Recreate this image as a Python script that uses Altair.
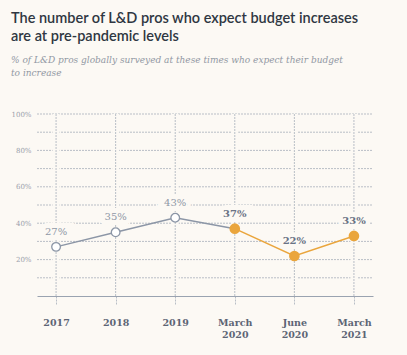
import altair as alt
import pandas as pd

categories = ["2017", "2018", "2019", "March 2020", "June 2020", "March 2021"]
values = [27, 35, 43, 37, 22, 33]
phase = ["pre", "pre", "pre", "pandemic", "pandemic", "pandemic"]
labels = ["27%", "35%", "43%", "37%", "22%", "33%"]

BG = "#fcf9f4"
GRAY = "#8c96a6"
ORANGE = "#eaa53c"
GRID = "#b9bec6"

df = pd.DataFrame({"cat": categories, "value": values, "phase": phase, "label": labels})

# line segments: grey pre-pandemic through March 2020, orange afterwards
line_rows = []
for i in range(4):
    line_rows.append({"cat": categories[i], "value": values[i], "seg": "pre", "order": i})
for i in range(3, 6):
    line_rows.append({"cat": categories[i], "value": values[i], "seg": "pandemic", "order": i})
line_df = pd.DataFrame(line_rows)

xs = alt.X("cat:N", sort=categories,
           scale=alt.Scale(type="point", padding=0.32),
           axis=alt.Axis(title=None, labelAngle=0, grid=False, domain=True,
                         domainColor="#9aa3b0", domainWidth=1.2,
                         ticks=True, tickColor=GRID, tickSize=9, tickDash=[2, 1],
                         labelPadding=12, labelFont="DejaVu Serif", labelFontSize=9.5,
                         labelFontWeight="bold", labelColor="#5d6575",
                         labelBaseline="top", labelLineHeight=12,
                         labelExpr="split(datum.label, ' ')"))
ys = alt.Y("value:Q", scale=alt.Scale(domain=[0, 100], nice=False),
           axis=alt.Axis(title=None, values=[20, 40, 60, 80, 100], grid=False,
                         domain=False, ticks=False, labelPadding=6,
                         labelFont="DejaVu Serif", labelFontSize=7,
                         labelColor="#9aa0ab", labelExpr="datum.value + '%'"))

grid_vals = pd.DataFrame({"g": [10, 20, 30, 40, 50, 60, 70, 80, 90, 100]})
hgrid = alt.Chart(grid_vals).mark_rule(color=GRID, strokeDash=[2, 1], strokeWidth=1).encode(
    y=alt.Y("g:Q", scale=alt.Scale(domain=[0, 100], nice=False)),
    x=alt.value(0), x2=alt.value(336))

base = alt.Chart(df)
vgap = base.mark_rule(color=BG, strokeWidth=7).encode(x=xs, y=alt.value(0), y2=alt.value(182))
vgrid = base.mark_rule(color=GRID, strokeDash=[2, 1], strokeWidth=1).encode(
    x=xs, y=alt.value(0), y2=alt.value(182))

halo = base.mark_text(dy=-15, fontSize=10, font="DejaVu Serif", stroke=BG, strokeWidth=10,
                      color=BG).encode(x=xs, y=ys, text="label:N")

lines = alt.Chart(line_df).mark_line(strokeWidth=1.5).encode(
    x=xs, y=ys, detail="seg:N", order="order:Q",
    color=alt.Color("seg:N", scale=alt.Scale(domain=["pre", "pandemic"], range=[GRAY, ORANGE]),
                    legend=None))

pts_pre = base.transform_filter(alt.datum.phase == "pre").mark_point(
    shape="circle", filled=True, fill="#ffffff", stroke=GRAY, strokeWidth=1.3, size=75,
    opacity=1).encode(x=xs, y=ys)
pts_pan = base.transform_filter(alt.datum.phase == "pandemic").mark_point(
    shape="circle", filled=True, fill=ORANGE, stroke=ORANGE, size=75, opacity=1).encode(x=xs, y=ys)

lab_pre = base.transform_filter(alt.datum.phase == "pre").mark_text(
    dy=-15, fontSize=10, font="DejaVu Serif", color="#8f98a6").encode(x=xs, y=ys, text="label:N")
lab_pan = base.transform_filter(alt.datum.phase == "pandemic").mark_text(
    dy=-15, fontSize=10, font="DejaVu Serif", fontWeight="bold", color="#6a7385").encode(
    x=xs, y=ys, text="label:N")

chart = alt.layer(hgrid, vgap, vgrid, halo, lines, pts_pre, pts_pan, lab_pre, lab_pan).properties(
    width=336, height=182,
    background=BG,
    padding={"left": 37, "top": 114, "right": 34, "bottom": 59},
    autosize=alt.AutoSizeParams(type="none"),
    title=alt.TitleParams(
        text=["The number of L&D pros who expect budget increases", "are at pre-pandemic levels"],
        subtitle=["% of L&D pros globally surveyed at these times who expect their budget",
                  "to increase"],
        anchor="start", dx=0, offset=31,
        font="Lato", fontSize=14.5, fontWeight=600, color="#2f3742", lineHeight=18,
        subtitleFont="DejaVu Serif", subtitleFontStyle="italic", subtitleFontSize=9.0,
        subtitleColor="#9198a3", subtitleLineHeight=13, subtitlePadding=12),
).configure_view(stroke=None)

chart.save("out.html", embed_options={"renderer": "svg", "actions": False})
